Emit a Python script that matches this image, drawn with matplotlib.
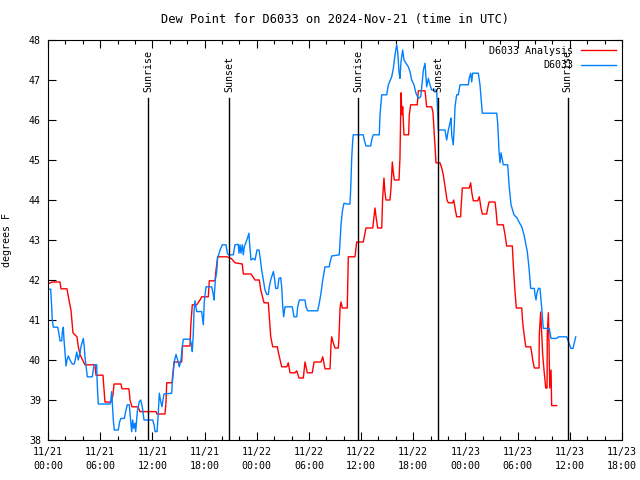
import matplotlib
matplotlib.use('Agg')
import matplotlib.pyplot as plt
import numpy as np

# hours since 2024-11-21 00:00 UTC, dew point in deg F
red_t = [0.0, 0.46, 1.38, 1.49, 2.18, 2.41, 2.64, 2.76, 2.87, 3.33, 3.45, 3.68,
         4.25, 5.40, 5.52, 6.32, 6.55, 7.24, 7.47, 7.59, 8.39, 8.51, 9.31, 9.43,
         9.66, 10.35, 10.58, 12.42, 12.53, 13.45, 13.57, 13.65, 14.26, 14.37,
         14.49, 15.37, 15.47, 16.33, 16.41, 16.59, 17.10, 17.48, 17.67, 18.43,
         18.55, 19.20, 19.32, 19.51, 20.58, 21.12, 21.50, 22.34, 22.46, 23.34,
         23.57, 23.80, 24.30, 24.46, 24.76, 24.84, 25.33, 25.45, 25.61, 25.84,
         26.37, 26.48, 26.76, 26.87, 27.45, 27.63, 27.83, 28.40, 28.60, 28.71,
         28.86, 29.36, 29.55, 29.67, 29.82, 30.39, 30.59, 31.39, 31.59, 31.85,
         32.43, 32.54, 32.62, 32.80, 33.00, 33.38, 33.46, 33.58, 33.69, 33.84,
         34.41, 34.53, 35.30, 35.49, 36.25, 36.37, 36.56, 37.34, 37.49, 37.60,
         37.72, 37.91, 38.37, 38.48, 38.63, 38.74, 38.86, 39.32, 39.44, 39.59,
         39.70, 39.82, 40.36, 40.47, 40.59, 40.70, 40.78, 40.93, 41.47, 41.54,
         41.70, 42.46, 42.58, 43.35, 43.54, 44.12, 44.27, 44.61, 45.07, 45.27,
         45.45, 45.57, 45.73, 45.88, 46.03, 46.53, 46.65, 46.80, 46.99, 47.45,
         47.49, 47.64, 48.44, 48.60, 48.72, 48.90, 49.41, 49.59, 49.79, 49.94,
         50.44, 50.56, 50.71, 51.40, 51.51, 51.66, 52.35, 52.55, 52.74, 53.39,
         53.50, 53.70, 53.85, 54.47, 54.58, 54.65, 54.93, 55.50, 55.62, 55.73,
         55.92, 56.46, 56.49, 56.65, 56.77, 56.88, 57.03, 57.23, 57.38, 57.41,
         57.53, 57.61, 57.69, 57.84, 57.91, 58.49]
red_v = [41.90, 41.95, 41.95, 41.78, 41.78, 41.50, 41.25, 40.95, 40.68, 40.58,
         40.38, 40.13, 39.88, 39.88, 39.62, 39.62, 38.95, 38.95, 39.12, 39.40,
         39.40, 39.28, 39.28, 39.00, 38.83, 38.83, 38.71, 38.71, 38.65, 38.65,
         38.95, 39.43, 39.43, 39.68, 39.95, 39.95, 40.35, 40.35, 40.83, 41.38,
         41.38, 41.50, 41.58, 41.58, 41.98, 41.98, 42.25, 42.58, 42.58, 42.53,
         42.43, 42.40, 42.15, 42.15, 42.08, 42.00, 42.00, 41.75, 41.50, 41.43,
         41.43, 41.05, 40.58, 40.33, 40.33, 40.20, 39.93, 39.83, 39.83, 39.93,
         39.68, 39.68, 39.73, 39.65, 39.55, 39.55, 39.95, 39.83, 39.68, 39.68,
         39.95, 39.95, 40.08, 39.78, 39.78, 40.38, 40.58, 40.43, 40.30, 40.30,
         40.58, 41.30, 41.45, 41.30, 41.30, 42.58, 42.58, 42.95, 42.95, 43.08,
         43.30, 43.30, 43.58, 43.80, 43.58, 43.30, 43.30, 44.05, 44.55, 44.20,
         44.00, 44.00, 44.30, 44.95, 44.70, 44.50, 44.50, 45.05, 46.68, 46.13,
         46.33, 45.63, 45.63, 46.13, 46.38, 46.38, 46.73, 46.73, 46.33, 46.33,
         46.18, 44.93, 44.93, 44.80, 44.63, 44.45, 44.20, 44.00, 43.93, 43.93,
         44.00, 43.80, 43.58, 43.58, 43.80, 44.30, 44.30, 44.43, 44.20, 43.98,
         43.98, 44.08, 43.80, 43.65, 43.65, 43.80, 43.95, 43.95, 43.75, 43.38,
         43.38, 43.13, 42.85, 42.85, 42.38, 41.70, 41.30, 41.30, 40.95, 40.80,
         40.33, 40.33, 40.18, 40.00, 39.80, 39.80, 40.63, 41.20, 40.63, 40.13,
         39.75, 39.30, 39.30, 40.63, 41.18, 40.38, 39.30, 39.75, 38.86, 38.86]

blue_t = [0.0, 0.31, 0.43, 0.49, 0.61, 1.12, 1.26, 1.38, 1.58, 1.64, 1.76, 1.84,
          1.95, 2.07, 2.18, 2.33, 2.53, 2.79, 3.02, 3.22, 3.30, 3.48, 3.68, 3.79,
          4.06, 4.17, 4.25, 4.37, 4.52, 5.09, 5.21, 5.32, 5.60, 5.63, 5.71, 5.78,
          7.13, 7.21, 7.32, 7.39, 7.51, 7.62, 8.08, 8.24, 8.39, 8.77, 8.93, 9.12,
          9.35, 9.43, 9.62, 9.74, 9.85, 10.00, 10.08, 10.27, 10.50, 10.66, 10.84,
          11.04, 12.04, 12.19, 12.31, 12.54, 12.68, 12.80, 12.96, 13.11, 13.19,
          13.34, 14.22, 14.29, 14.41, 14.52, 14.72, 14.91, 15.10, 15.29, 15.44,
          15.56, 16.33, 16.52, 16.59, 16.71, 16.79, 16.90, 17.10, 17.67, 17.79,
          17.86, 17.97, 18.17, 18.82, 19.01, 19.09, 19.24, 19.40, 19.51, 19.63,
          19.78, 20.04, 20.47, 20.62, 20.73, 21.31, 21.50, 21.88, 21.96, 22.08,
          22.19, 22.34, 22.46, 22.57, 22.73, 22.92, 23.11, 23.15, 23.34, 23.54,
          23.80, 24.03, 24.26, 24.38, 24.57, 24.76, 24.95, 25.15, 25.33, 25.45,
          25.61, 25.91, 26.02, 26.18, 26.41, 26.56, 26.76, 26.87, 26.99, 27.10,
          27.25, 28.09, 28.29, 28.60, 28.71, 28.90, 29.55, 29.67, 29.86, 31.01,
          31.19, 31.39, 31.59, 31.85, 32.34, 32.42, 32.62, 33.49, 33.58, 33.69,
          33.84, 34.03, 34.35, 34.72, 34.80, 34.92, 35.03, 35.10, 36.25, 36.37,
          36.56, 37.10, 37.22, 37.40, 38.09, 38.18, 38.37, 38.95, 39.13, 39.52,
          39.71, 39.90, 40.09, 40.21, 40.28, 40.36, 40.47, 40.59, 40.78, 40.93,
          41.16, 41.43, 41.62, 41.82, 42.08, 42.31, 42.58, 42.85, 43.00, 43.16,
          43.35, 43.54, 43.73, 43.92, 44.12, 44.69, 44.80, 44.87, 45.65, 45.84,
          46.03, 46.22, 46.34, 46.42, 46.60, 46.72, 46.80, 46.99, 47.18, 47.37,
          48.33, 48.44, 48.60, 48.72, 48.83, 49.48, 49.67, 49.94, 51.60, 51.72,
          51.86, 51.98, 52.09, 52.24, 52.35, 52.86, 53.01, 53.24, 53.58, 53.93,
          54.16, 54.47, 54.73, 55.11, 55.31, 55.50, 55.92, 56.00, 56.11, 56.23,
          56.38, 56.57, 56.77, 56.95, 57.64, 57.84, 58.49, 58.68, 59.64, 59.90,
          60.13, 60.36, 60.68]
blue_v = [41.77, 41.77, 41.30, 41.00, 40.82, 40.82, 40.65, 40.48, 40.48, 40.68,
          40.82, 40.50, 40.21, 39.85, 40.00, 40.10, 40.00, 39.90, 39.90, 40.10,
          40.20, 40.00, 40.18, 40.33, 40.54, 40.33, 40.08, 39.85, 39.58, 39.58,
          39.75, 39.88, 39.88, 39.58, 39.18, 38.90, 38.90, 38.96, 39.21, 38.96,
          38.50, 38.25, 38.25, 38.46, 38.54, 38.54, 38.71, 38.88, 38.88, 38.67,
          38.21, 38.50, 38.29, 38.42, 38.21, 38.71, 38.96, 39.00, 38.83, 38.50,
          38.50, 38.38, 38.21, 38.21, 38.67, 39.17, 38.96, 38.83, 38.96, 39.15,
          39.17, 39.43, 39.71, 39.96, 40.14, 40.00, 39.83, 40.00, 40.33, 40.52,
          40.52, 40.38, 40.21, 40.68, 41.21, 41.48, 41.21, 41.21, 41.00, 40.88,
          41.46, 41.83, 41.83, 41.63, 41.50, 42.00, 42.21, 42.58, 42.63, 42.75,
          42.88, 42.88, 42.67, 42.63, 42.63, 42.88, 42.89, 42.67, 42.88, 42.67,
          42.88, 42.63, 42.83, 42.92, 43.04, 43.17, 43.00, 42.50, 42.54, 42.50,
          42.75, 42.75, 42.58, 42.25, 42.00, 41.75, 41.64, 41.64, 41.83, 42.00,
          42.21, 42.08, 41.79, 41.79, 42.04, 42.06, 41.83, 41.33, 41.08, 41.33,
          41.33, 41.08, 41.08, 41.33, 41.50, 41.50, 41.33, 41.23, 41.23, 41.42,
          41.67, 42.00, 42.33, 42.33, 42.43, 42.60, 42.63, 42.96, 43.38, 43.71,
          43.92, 43.90, 43.90, 44.25, 45.04, 45.46, 45.63, 45.63, 45.50, 45.35,
          45.35, 45.50, 45.63, 45.63, 46.13, 46.63, 46.63, 46.88, 47.08, 47.29,
          47.63, 47.88, 47.71, 47.46, 47.21, 47.04, 47.46, 47.75, 47.50, 47.42,
          47.33, 47.21, 47.00, 46.88, 46.67, 46.54, 46.58, 46.88, 47.25, 47.42,
          46.83, 47.04, 46.88, 46.75, 46.75, 46.20, 45.75, 45.75, 45.50, 45.75,
          45.92, 46.05, 45.63, 45.38, 45.88, 46.33, 46.63, 46.63, 46.88, 46.88,
          47.05, 47.17, 46.95, 47.17, 47.17, 46.88, 46.17, 46.17, 45.88, 45.21,
          44.93, 45.18, 45.00, 44.88, 44.88, 44.38, 43.88, 43.63, 43.55, 43.45,
          43.33, 43.13, 42.71, 42.30, 41.79, 41.79, 41.63, 41.50, 41.68, 41.79,
          41.79, 41.29, 40.79, 40.79, 40.54, 40.54, 40.58, 40.58, 40.43, 40.29,
          40.29, 40.58]

sun_t = [11.53, 20.85, 35.68, 44.88, 59.75]
sun_labels = ['Sunrise', 'Sunset', 'Sunrise', 'Sunset', 'Sunrise']

tick_hours = list(range(0, 67, 6))
tick_labels = ['11/21\n00:00', '11/21\n06:00', '11/21\n12:00', '11/21\n18:00',
               '11/22\n00:00', '11/22\n06:00', '11/22\n12:00', '11/22\n18:00',
               '11/23\n00:00', '11/23\n06:00', '11/23\n12:00', '11/23\n18:00']

plt.rcParams['font.family'] = ['DejaVu Sans Mono']
plt.rcParams['font.size'] = 7.2

fig = plt.figure(figsize=(6.4, 4.8), dpi=100)
ax = fig.add_axes([48 / 640, 40 / 480, 574 / 640, 400 / 480])

ax.plot(red_t, red_v, color='#ff0000', lw=1, label='D6033 Analysis')
ax.plot(blue_t, blue_v, color='#0080ff', lw=1, label='D6033')

for t, lab in zip(sun_t, sun_labels):
    ax.plot([t, t], [38, 46.55], color='black', lw=1)
    ax.text(t, 46.7, lab, rotation=90, ha='center', va='bottom')

ax.set_xlim(0, 66)
ax.set_ylim(38, 48)
ax.set_xticks(tick_hours)
ax.set_xticklabels(tick_labels, linespacing=1.5)
ax.set_xticks(np.arange(0, 67, 2), minor=True)
ax.set_yticks(range(38, 49))
ax.tick_params(which='both', direction='in', top=True, right=True, width=0.8)
ax.tick_params(which='major', length=6, pad=5)
ax.tick_params(which='minor', length=3)
ax.set_ylabel('degrees F', labelpad=12)
ax.set_title('Dew Point for D6033 on 2024-Nov-21 (time in UTC)', pad=12)

ax.legend(loc='upper right', frameon=False, markerfirst=False,
          handlelength=3.5, borderaxespad=0.2, labelspacing=0.45)

plt.savefig('out.png', dpi=100)
